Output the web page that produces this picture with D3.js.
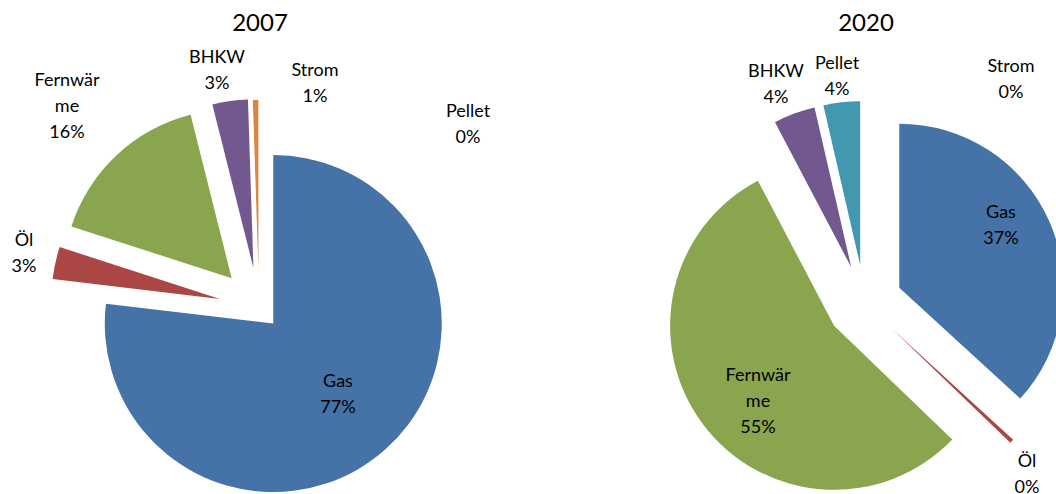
<!DOCTYPE html>
<html>
<head>
<meta charset="utf-8">
<script src="https://cdn.jsdelivr.net/npm/d3@7"></script>
<style>
  body { margin: 0; background: #fff; }
  svg { display: block; font-family: Lato, "Open Sans", sans-serif; }
</style>
</head>
<body>
<svg id="chart" width="1056" height="494"></svg>
<script>
// data (percent shares, clockwise from 12 o'clock)
const categories = ["Gas", "Öl", "Fernwärme", "BHKW", "Pellet", "Strom"];
const colors = ["#4572A7", "#AA4643", "#89A54E", "#71588F", "#4198AF", "#DB843D"];
const years = ["2007", "2020"];
const values2007 = [76.9, 3.1, 16.1, 3.4, 0, 0.52];
const values2020 = [36.8, 0.4, 55.1, 4.1, 3.6, 0];

// label wrapping like the original (narrow label boxes)
const labelLines = { "Fernwärme": ["Fernwär", "me"] };

// layout per chart (explode = how far each slice is pulled out, px)
const charts = [
  {
    year: years[0], values: values2007,
    cx: 259, cy: 307.5, r: 168.5, explode: [21.5, 40, 40, 40, 40, 39], titleX: 260,
    labels: { "Gas": [338, 387], "Öl": [24, 246], "Fernwärme": [67, 86],
              "BHKW": [217, 63], "Pellet": [468, 117], "Strom": [315, 76] }
  },
  {
    year: years[1], values: values2020,
    cx: 864.5, cy: 303, r: 164, explode: [38, 38, 38, 38, 38, 38], titleX: 866,
    labels: { "Gas": [1001, 218], "Öl": [1027, 467], "Fernwärme": [758, 381],
              "BHKW": [776, 77], "Pellet": [837, 69], "Strom": [1011, 72] }
  }
];

const svg = d3.select("#chart");
const fmt = d3.format(".0%");
const pie = d3.pie().sort(null).value(d => d.value);

charts.forEach(c => {
  const rows = categories.map((name, i) => ({ name: name, value: c.values[i], color: colors[i], explode: c.explode[i] }));
  const total = d3.sum(rows, d => d.value);
  const arc = d3.arc().innerRadius(0).outerRadius(c.r);

  const g = svg.append("g").attr("transform", `translate(${c.cx},${c.cy})`);

  g.selectAll("path")
    .data(pie(rows))
    .join("path")
    .attr("transform", d => {
      const mid = (d.startAngle + d.endAngle) / 2;
      const e = d.data.explode;
      return `translate(${e * Math.sin(mid)},${-e * Math.cos(mid)})`;
    })
    .attr("fill", d => d.data.color)
    .attr("d", arc);

  svg.append("text")
    .attr("x", c.titleX).attr("y", 31)
    .attr("text-anchor", "middle")
    .attr("font-size", 24)
    .attr("fill", "#000")
    .text(c.year);

  rows.forEach(d => {
    const pos = c.labels[d.name];
    const lines = (labelLines[d.name] || [d.name]).concat([fmt(d.value / total)]);
    const t = svg.append("text")
      .attr("text-anchor", "middle")
      .attr("font-size", 18)
      .attr("fill", "#000");
    lines.forEach((line, k) => {
      t.append("tspan").attr("x", pos[0]).attr("y", pos[1] + k * 26).text(line);
    });
  });
});
</script>
</body>
</html>
